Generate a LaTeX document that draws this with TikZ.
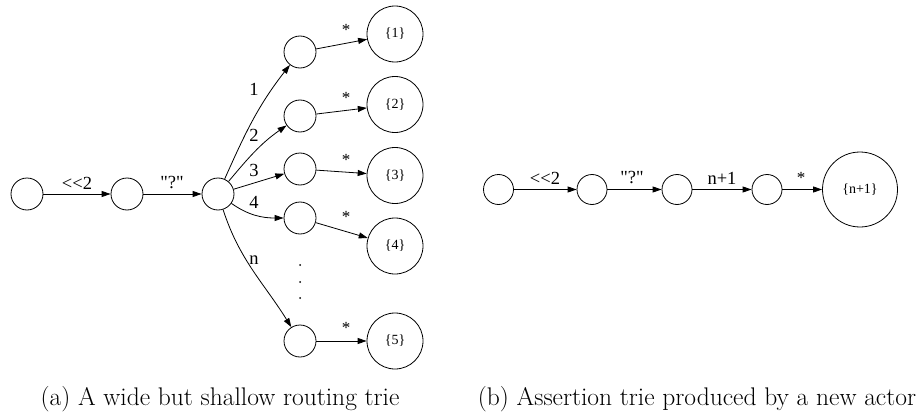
\documentclass[tikz,border=0pt]{standalone}
\usepackage{fontspec}
\newfontfamily\timesf{Liberation Serif}
\usetikzlibrary{arrows.meta}
\tikzset{
  st/.style={circle,draw,line width=0.8pt,minimum size=32pt,inner sep=0pt},
  fin/.style={circle,draw,line width=0.8pt,minimum size=56pt,inner sep=0pt,font=\timesf\fontsize{14}{15}\selectfont},
  bigfin/.style={circle,draw,line width=0.8pt,minimum size=75pt,inner sep=0pt,font=\timesf\fontsize{14}{15}\selectfont},
  sst/.style={circle,draw,line width=0.8pt,minimum size=30pt,inner sep=0pt},
  edge/.style={line width=0.8pt,-{Triangle[length=9pt,width=6pt]}},
  lab/.style={font=\timesf\fontsize{18.5}{20}\selectfont,inner sep=0pt},
  starlab/.style={font=\timesf\fontsize{17}{18}\selectfont,inner sep=0pt},
  captext/.style={font=\fontsize{25.5}{27}\selectfont,inner sep=0pt,anchor=base},
  dotn/.style={circle,fill,inner sep=0pt,minimum size=2pt}
}
\begin{document}
\begin{tikzpicture}[x=1pt,y=1pt]
\useasboundingbox (0,0) rectangle (916,-412);
% left diagram
\node[st] (n0) at (27,-194) {};
\node[st] (n1) at (127,-194) {};
\node[st] (n2) at (218,-194) {};
\node[st] (a1) at (300,-52) {};
\node[st] (a2) at (300,-116) {};
\node[st] (a3) at (300,-169) {};
\node[st] (a4) at (300,-218) {};
\node[st] (a5) at (300,-341) {};
\node[fin] (b1) at (395,-34) {\{1\}};
\node[fin] (b2) at (395,-104.5) {\{2\}};
\node[fin] (b3) at (395,-175.5) {\{3\}};
\node[fin] (b4) at (395,-246) {\{4\}};
\node[fin] (b5) at (395,-341) {\{5\}};
\draw[edge] (n0) -- (n1);
\draw[edge] (n1) -- (n2);
\draw[edge] (n2) to[out=66,in=232] (a1);
\draw[edge] (n2) to[out=50,in=215] (a2);
\draw[edge] (n2) -- (a3);
\draw[edge] (n2) to[out=-35,in=180] (a4);
\draw[edge] (n2) to[out=-72,in=122] (a5);
\draw[edge] (a1) -- (b1);
\draw[edge] (a2) -- (b2);
\draw[edge] (a3) -- (b3);
\draw[edge] (a4) -- (b4);
\draw[edge] (a5) -- (b5);
\node[lab] (l0) at (77,-183) {<<2};
\node[lab] (l1) at (172,-183) {"?"};
\node[lab] (k1) at (254,-89) {1};
\node[lab] (k2) at (254,-135) {2};
\node[lab] (k3) at (254,-170) {3};
\node[lab] (k4) at (254,-202) {4};
\node[lab] (kn) at (254,-260) {n};
\node[starlab] (s1) at (346,-30) {*};
\node[starlab] (s2) at (346,-98) {*};
\node[starlab] (s3) at (346,-160) {*};
\node[starlab] (s4) at (346,-217) {*};
\node[starlab] (s5) at (346,-328) {*};
\node[dotn] (d1) at (300,-265) {};
\node[dotn] (d2) at (300,-282) {};
\node[dotn] (d3) at (300,-298) {};
% right diagram
\node[sst] (c0) at (498.5,-189.5) {};
\node[sst] (c1) at (592,-189.5) {};
\node[sst] (c2) at (677,-189.5) {};
\node[sst] (c3) at (767,-189.5) {};
\node[bigfin] (c4) at (860,-189.5) {\{n+1\}};
\draw[edge] (c0) -- (c1);
\draw[edge] (c1) -- (c2);
\draw[edge] (c2) -- (c3);
\draw[edge] (c3) -- (c4);
\node[lab] (r0) at (545,-178) {<<2};
\node[lab] (r1) at (632,-178) {"?"};
\node[lab] (r2) at (722,-178) {n+1};
\node[starlab] (r3) at (801,-178) {*};
% captions
\node[captext] (capa) at (220,-405) {(a) A wide but shallow routing trie};
\node[captext] (capb) at (697,-405) {(b) Assertion trie produced by a new actor};
\end{tikzpicture}
\end{document}
